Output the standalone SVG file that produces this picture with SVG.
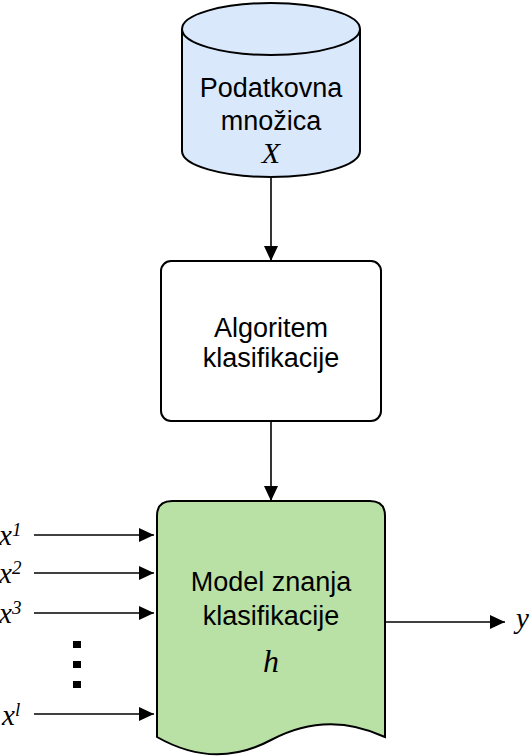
<svg xmlns="http://www.w3.org/2000/svg" width="532" height="756" viewBox="0 0 532 756">
<style>
.shape{stroke:#000;stroke-width:2}
.lbl{font-family:"Liberation Sans",Arial,sans-serif;font-size:27px;fill:#000;text-anchor:middle}
.math{font-family:"Liberation Serif","Times New Roman",serif;font-style:italic;fill:#000}
.sup{font-size:19px}
.conn{stroke:#000;stroke-width:1.6;fill:none}
</style>
<defs>
<marker id="ah" viewBox="0 0 15 14" refX="15" refY="7" markerWidth="15" markerHeight="14" markerUnits="userSpaceOnUse" orient="auto">
<path d="M0,0 L15,7 L0,14 Z" fill="#000"/>
</marker>
</defs>
<rect width="532" height="756" fill="#fff"/>
<g id="dataset">
<path class="shape" fill="#dae8fc" d="M182,29 L182,151 A89,26 0 0 0 360,151 L360,29 A89,26 0 0 0 182,29 Z"/>
<path class="shape" fill="none" d="M182,29 A89,26 0 0 0 360,29"/>
<text class="lbl" x="271" y="97">Podatkovna</text>
<text class="lbl" x="271" y="130">množica</text>
<text class="math" x="271" y="163" font-size="30" text-anchor="middle">X</text>
</g>
<g id="algorithm">
<rect class="shape" fill="#fff" x="161" y="261" width="220" height="160" rx="10"/>
<text class="lbl" x="271" y="337">Algoritem</text>
<text class="lbl" x="271" y="367">klasifikacije</text>
</g>
<g id="model">
<path class="shape" fill="#b9e0a5" d="M172,501 L370,501 Q385,501 385,516 L385,737 Q327,710 271,740 Q215,770 157,737 L157,516 Q157,501 172,501 Z"/>
<text class="lbl" x="271" y="591">Model znanja</text>
<text class="lbl" x="271" y="625">klasifikacije</text>
<text class="math" x="271" y="672" font-size="32" text-anchor="middle">h</text>
</g>
<g id="inputs">
<text class="math" x="-1" y="545" font-size="29">x<tspan class="sup" dy="-9">1</tspan></text>
<text class="math" x="-1" y="583" font-size="29">x<tspan class="sup" dy="-9">2</tspan></text>
<text class="math" x="-1" y="623" font-size="29">x<tspan class="sup" dy="-9">3</tspan></text>
<text class="math" x="2" y="725" font-size="29">x<tspan class="sup" dy="-9">l</tspan></text>
<rect x="73" y="641" width="8" height="7" fill="#000"/>
<rect x="73" y="661" width="8" height="7" fill="#000"/>
<rect x="73" y="681" width="8" height="7" fill="#000"/>
</g>
<g id="output">
<text class="math" x="516" y="628" font-size="29">y</text>
</g>
<g id="connectors">
<line class="conn" x1="271" y1="178" x2="271" y2="261" marker-end="url(#ah)"/>
<line class="conn" x1="271" y1="421" x2="271" y2="501" marker-end="url(#ah)"/>
<line class="conn" x1="34" y1="535" x2="154" y2="535" marker-end="url(#ah)"/>
<line class="conn" x1="34" y1="573" x2="154" y2="573" marker-end="url(#ah)"/>
<line class="conn" x1="34" y1="613" x2="154" y2="613" marker-end="url(#ah)"/>
<line class="conn" x1="34" y1="714" x2="154" y2="714" marker-end="url(#ah)"/>
<line class="conn" x1="385" y1="622" x2="505" y2="622" marker-end="url(#ah)"/>
</g>
</svg>
